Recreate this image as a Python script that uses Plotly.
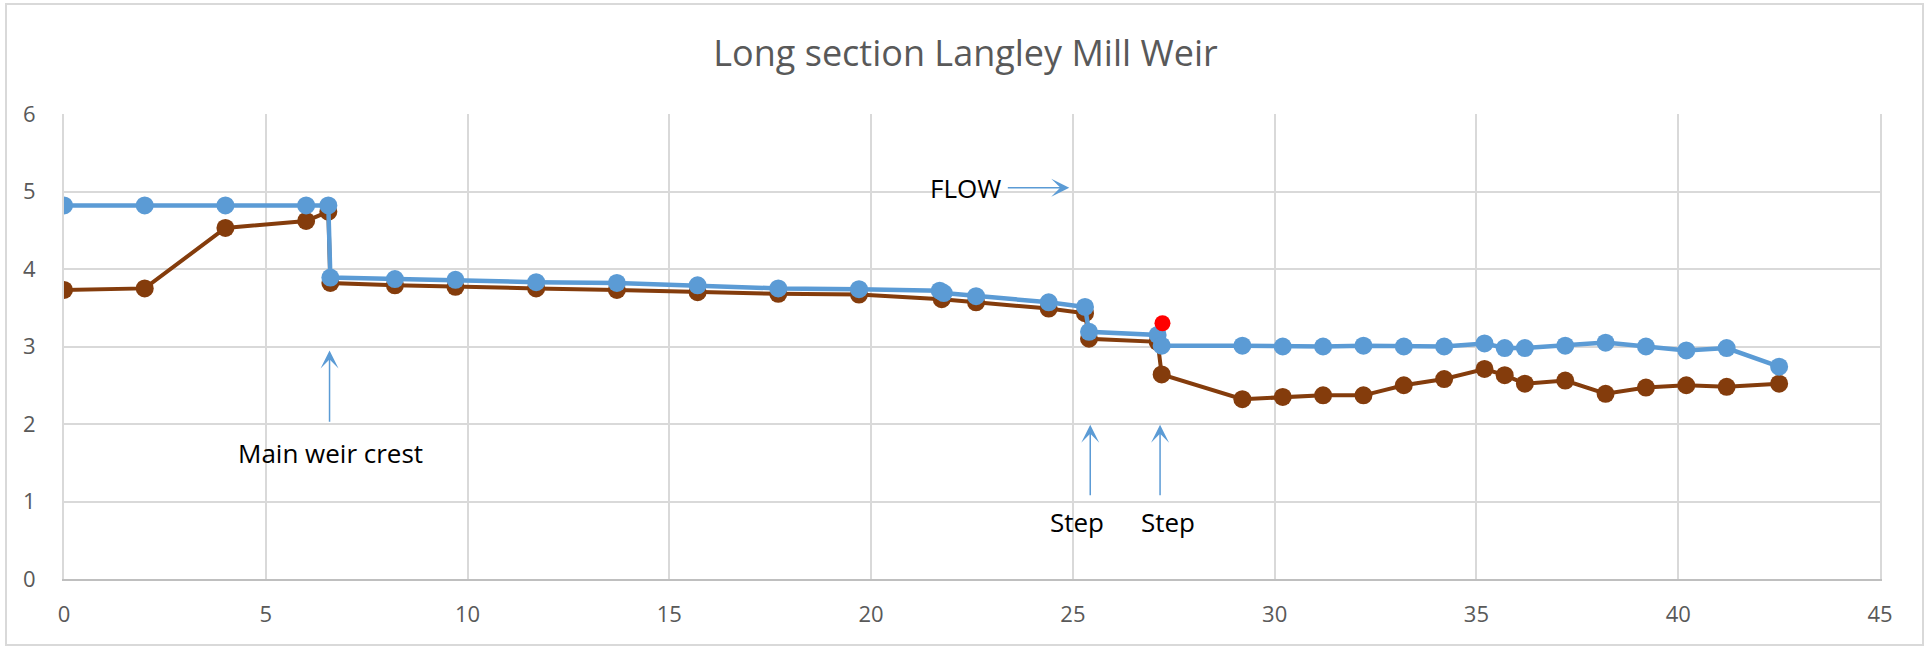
import plotly.graph_objects as go

# Water surface (blue)
water_x = [0, 2, 4, 6, 6.55, 6.6, 8.2, 9.7, 11.7, 13.7, 15.7, 17.7, 19.7, 21.7, 21.8, 22.6,
           24.4, 25.3, 25.4, 27.1, 27.2, 29.2, 30.2, 31.2, 32.2, 33.2, 34.2, 35.2, 35.7, 36.2,
           37.2, 38.2, 39.2, 40.2, 41.2, 42.5]
water_y = [4.82, 4.82, 4.82, 4.82, 4.82, 3.89, 3.87, 3.86, 3.83, 3.82, 3.79, 3.75, 3.74, 3.72,
           3.69, 3.65, 3.57, 3.51, 3.19, 3.15, 3.01, 3.01, 3.00, 3.00, 3.01, 3.00, 3.00, 3.04,
           2.98, 2.98, 3.01, 3.05, 3.00, 2.95, 2.98, 2.74]

# Bed level (brown)
bed_x = [0, 2, 4, 6, 6.55, 6.6, 8.2, 9.7, 11.7, 13.7, 15.7, 17.7, 19.7, 21.75, 22.6, 24.4,
         25.3, 25.4, 27.1, 27.2, 29.2, 30.2, 31.2, 32.2, 33.2, 34.2, 35.2, 35.7, 36.2, 37.2,
         38.2, 39.2, 40.2, 41.2, 42.5]
bed_y = [3.73, 3.75, 4.53, 4.62, 4.74, 3.82, 3.79, 3.77, 3.75, 3.73, 3.70, 3.68, 3.67, 3.61,
         3.57, 3.49, 3.43, 3.10, 3.06, 2.64, 2.32, 2.35, 2.37, 2.37, 2.50, 2.58, 2.71, 2.63,
         2.52, 2.56, 2.39, 2.47, 2.50, 2.48, 2.52]

# Single highlighted point
red_x = [27.22]
red_y = [3.30]

x_ticks = [0, 5, 10, 15, 20, 25, 30, 35, 40, 45]
y_ticks = [0, 1, 2, 3, 4, 5, 6]

# Annotation arrows: (label, text_x, text_y, tip_x, tip_y, tail_x, tail_y)
weir_label = ["Main weir crest", 6.61, 1.62, 6.58, 2.95, 6.58, 2.01]
step1_label = ["Step", 25.10, 0.73, 25.43, 1.99, 25.43, 1.06]
step2_label = ["Step", 27.36, 0.73, 27.16, 1.99, 27.16, 1.06]
flow_label = ["FLOW", 22.35, 5.05, 24.91, 5.05, 23.35, 5.05]

BLUE = "#5B9BD5"
BROWN = "#843C0C"
FONT = "Open Sans"

fig = go.Figure()
fig.add_trace(go.Scatter(x=bed_x, y=bed_y, mode="lines+markers",
                         line=dict(color=BROWN, width=4),
                         marker=dict(color=BROWN, size=18), showlegend=False))
fig.add_trace(go.Scatter(x=water_x, y=water_y, mode="lines+markers",
                         line=dict(color=BLUE, width=4.5),
                         marker=dict(color=BLUE, size=18), showlegend=False))
fig.add_trace(go.Scatter(x=red_x, y=red_y, mode="markers",
                         marker=dict(color="#FF0000", size=16), showlegend=False))

annotations = []
for lab in [weir_label, step1_label, step2_label, flow_label]:
    text, tx, ty, hx, hy, sx, sy = lab
    annotations.append(dict(x=hx, y=hy, ax=sx, ay=sy, xref="x", yref="y", axref="x", ayref="y",
                            text="", showarrow=True, arrowhead=3, arrowsize=2, arrowwidth=1.5,
                            arrowcolor=BLUE, standoff=0))
    annotations.append(dict(x=tx, y=ty, xref="x", yref="y", text=text, showarrow=False,
                            font=dict(family=FONT, size=26, color="#000000"),
                            xanchor="center", yanchor="middle"))

fig.update_layout(
    width=1931, height=647,
    margin=dict(l=64, r=51, t=114, b=68),
    paper_bgcolor="white", plot_bgcolor="white",
    title=dict(text="Long section Langley Mill Weir", x=0.5, xanchor="center",
               y=1 - 53 / 647, yanchor="middle", yref="container",
               font=dict(family=FONT, size=36, color="#595959")),
    xaxis=dict(range=[0, 45], tickvals=x_ticks, showgrid=True, gridcolor="#D9D9D9", gridwidth=2,
               zeroline=False, showline=True, linecolor="#BFBFBF", linewidth=2,
               tickfont=dict(family=FONT, size=22, color="#595959"), ticklabelstandoff=15),
    yaxis=dict(range=[0, 6], tickvals=y_ticks, showgrid=True, gridcolor="#D9D9D9", gridwidth=2,
               zeroline=False, showline=True, linecolor="#D9D9D9", linewidth=2, mirror=True,
               tickfont=dict(family=FONT, size=22, color="#595959"), ticklabelstandoff=22),
    annotations=annotations,
    shapes=[dict(type="rect", xref="paper", yref="paper",
                 x0=(6 - 64) / 1816, x1=(1923 - 64) / 1816,
                 y0=(579 - 645) / 465, y1=(579 - 4) / 465,
                 line=dict(color="#D9D9D9", width=2), layer="below")],
)

fig.write_html("out.html", config={"displayModeBar": False},
               post_script="document.body.style.margin='0';")
